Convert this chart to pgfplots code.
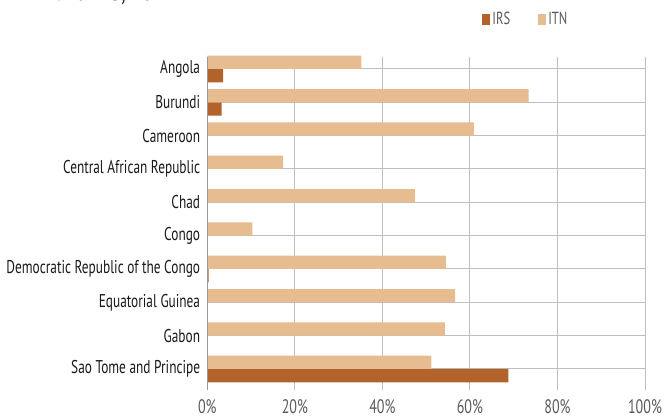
\documentclass[border=0pt]{standalone}
\usepackage{pgfplots}
\pgfplotsset{compat=1.18}
\usepackage{fontspec}
\setmainfont[FakeStretch=0.72]{PT Sans}
\definecolor{irs}{HTML}{B2622B}
\definecolor{itn}{HTML}{E8BC91}
\definecolor{txt}{HTML}{1A1A1A}
\definecolor{tick}{HTML}{595959}
\definecolor{grid}{HTML}{DDDDDD}
\begin{document}
\begin{tikzpicture}[x=1pt,y=1pt]
\useasboundingbox (0,0) rectangle (665,419);
\node[anchor=base west,inner sep=0pt,text=txt,font=\fontsize{28}{30}\selectfont] at (55,418.8) {and IRS, 2011};
\begin{axis}[
  at={(207.3pt,29pt)}, anchor=south west,
  width=437.7pt, height=333pt, scale only axis,
  xbar,
  xmin=0, xmax=100,
  ymin=-0.36, ymax=9.63,
  y dir=reverse,
  axis line style={draw=none},
  xmajorgrids, grid style={grid, line width=1pt},
  xtick={0,20,40,60,80,100},
  xticklabel={\pgfmathprintnumber{\tick}\%},
  /pgf/number format/assume math mode=true,
  xticklabel style={text=tick, font=\fontsize{19.5}{21}\selectfont, inner sep=0pt, yshift=-9.5pt},
  ytick={0,...,9},
  yticklabels={Angola,Burundi,Cameroon,Central African Republic,Chad,Congo,Democratic Republic of the Congo,Equatorial Guinea,Gabon,Sao Tome and Principe},
  yticklabel style={text=txt, font=\fontsize{18.5}{20}\selectfont, inner sep=0pt, xshift=-7pt},
  major tick length=0pt,
  tick style={draw=none},
  bar width=13.3pt,
  legend style={draw=none, fill=none, at={(0.728,1.114)}, anchor=center,
    legend columns=2, font=\fontsize{17.5}{20}\selectfont, text=tick,
    /tikz/every even column/.append style={column sep=26pt},
    inner sep=0pt},
  legend image code/.code={\fill[#1,draw=none] (0pt,-5.5pt) rectangle (8pt,5.5pt);},
  clip=false,
]
\addplot[fill=irs, draw=none, bar shift=-6.65pt] coordinates {
(3.6,0) (3.3,1) (0,2) (0,3) (0,4) (0,5) (0.3,6) (0,7) (0,8) (68.8,9)};
\addplot[fill=itn, draw=none, bar shift=6.65pt] coordinates {
(35.2,0) (73.4,1) (60.9,2) (17.3,3) (47.4,4) (10.3,5) (54.5,6) (56.6,7) (54.3,8) (51.2,9)};
\legend{IRS,ITN}
\draw[color=black!40, line width=1pt] (axis cs:0,-0.36) -- (axis cs:0,9.63);
\end{axis}
\end{tikzpicture}
\end{document}
